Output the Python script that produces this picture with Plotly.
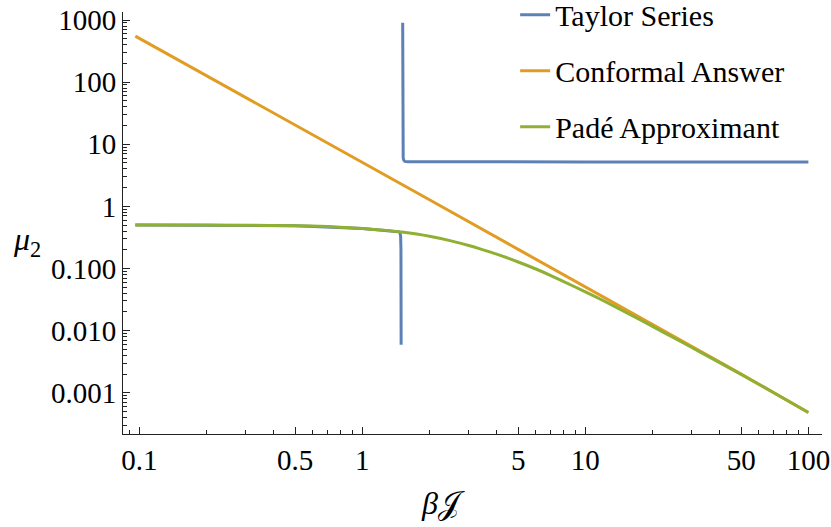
import plotly.graph_objects as go

# ---- data ----
conf_x = [0.096, 0.2, 0.5, 1.0, 2.0, 5.0, 10.0, 20.0, 50.0, 100.0]
conf_y = [550, 128, 20.5, 5.15, 1.28, 0.203, 0.0505, 0.0125, 0.00199, 0.00048]

pade_x = [0.096, 0.2, 0.3, 0.5, 0.7, 1.0, 1.2, 1.5, 2.0, 2.5, 3.0, 3.4, 4.0, 5.0, 6.0, 7.0, 8.0,
          10.0, 12.0, 15.0, 20.0, 25.0, 30.0, 40.0, 50.0, 70.0, 100.0]
pade_y = [0.500, 0.499, 0.496, 0.488, 0.472, 0.44, 0.418, 0.385, 0.330, 0.278, 0.234, 0.205, 0.170,
          0.127, 0.098, 0.077, 0.0615, 0.0420, 0.0305, 0.0201, 0.0117, 0.0076, 0.00535, 0.00305,
          0.00196, 0.00100, 0.00048]

taylor_lo_x = [0.096, 0.3, 0.5, 1.0, 1.3, 1.45, 1.475, 1.485, 1.49, 1.492, 1.493]
taylor_lo_y = [0.50, 0.495, 0.488, 0.44, 0.41, 0.39, 0.38, 0.33, 0.2, 0.05, 0.0059]
taylor_hi_x = [1.517, 1.518, 1.52, 1.525, 1.535, 1.55, 1.6, 2.0, 10.0, 100.0]
taylor_hi_y = [900, 20, 7.5, 6.0, 5.5, 5.3, 5.22, 5.2, 5.2, 5.2]

x_ticks = [0.1, 0.5, 1, 5, 10, 50, 100]
x_ticklabels = ["0.1", "0.5", "1", "5", "10", "50", "100"]
y_ticks = [1000, 100, 10, 1, 0.1, 0.01, 0.001]
y_ticklabels = ["1000", "100", "10", "1", "0.100", "0.010", "0.001"]

x_minor = [0.09] + [m * d for d in (0.1, 1, 10) for m in range(2, 10)]
y_minor = [m * d for d in (0.0001, 0.001, 0.01, 0.1, 1, 10, 100, 1000) for m in range(2, 10)]

BLUE = "#5E81B5"
ORANGE = "#E19C24"
GREEN = "#8FB032"
FONT = "Liberation Serif"
TXT = "black"

taylor_x = taylor_lo_x + [None] + taylor_hi_x
taylor_y = taylor_lo_y + [None] + taylor_hi_y

fig = go.Figure()
fig.add_trace(go.Scatter(x=taylor_x, y=taylor_y, mode="lines", name="Taylor Series",
                         line=dict(color=BLUE, width=3), connectgaps=False, legendgroup="a"))
fig.add_trace(go.Scatter(x=conf_x, y=conf_y, mode="lines", name="Conformal Answer",
                         line=dict(color=ORANGE, width=3), legendgroup="b"))
fig.add_trace(go.Scatter(x=pade_x, y=pade_y, mode="lines", name="Padé Approximant",
                         line=dict(color=GREEN, width=3, shape="spline", smoothing=0.6),
                         legendgroup="c"))

axis_common = dict(showgrid=False, zeroline=False, showline=True, linecolor="#222", linewidth=1,
                   ticks="inside", ticklen=7, tickcolor="#222", tickwidth=1, automargin=False,
                   tickfont=dict(family=FONT, size=29, color=TXT))

fig.update_xaxes(type="log", range=[-1.073, 2.061], tickmode="array", tickvals=x_ticks,
                 ticktext=x_ticklabels,
                 minor=dict(tickmode="array", tickvals=x_minor, ticks="inside", ticklen=4,
                            tickcolor="#222", showgrid=False),
                 **axis_common)
fig.update_yaxes(type="log", range=[-3.665, 3.129], tickmode="array", tickvals=y_ticks,
                 ticktext=y_ticklabels,
                 minor=dict(tickmode="array", tickvals=y_minor, ticks="inside", ticklen=4,
                            tickcolor="#222", showgrid=False),
                 **axis_common)

fig.update_layout(
    width=831, height=527,
    margin=dict(l=123, r=9, t=12, b=93, autoexpand=False),
    paper_bgcolor="white", plot_bgcolor="white",
    font=dict(family=FONT, color=TXT),
    showlegend=True,
    legend=dict(x=0.561, y=1.055, xanchor="left", yanchor="top",
                font=dict(family=FONT, size=30, color=TXT),
                bgcolor="rgba(0,0,0,0)", tracegroupgap=14),
    annotations=[
        dict(text="<i>μ</i><sub>2</sub>", x=-0.16, y=0.455, xref="paper", yref="paper",
             showarrow=False, font=dict(family=FONT, size=32, color=TXT)),
        dict(text="<i>β</i>𝒥", x=0.458, y=-0.21, xref="paper", yref="paper",
             showarrow=False, font=dict(family=FONT, size=32, color=TXT)),
    ],
)

fig.write_html("out.html", post_script="document.body.style.margin='0';",
               config={"displayModeBar": False})
